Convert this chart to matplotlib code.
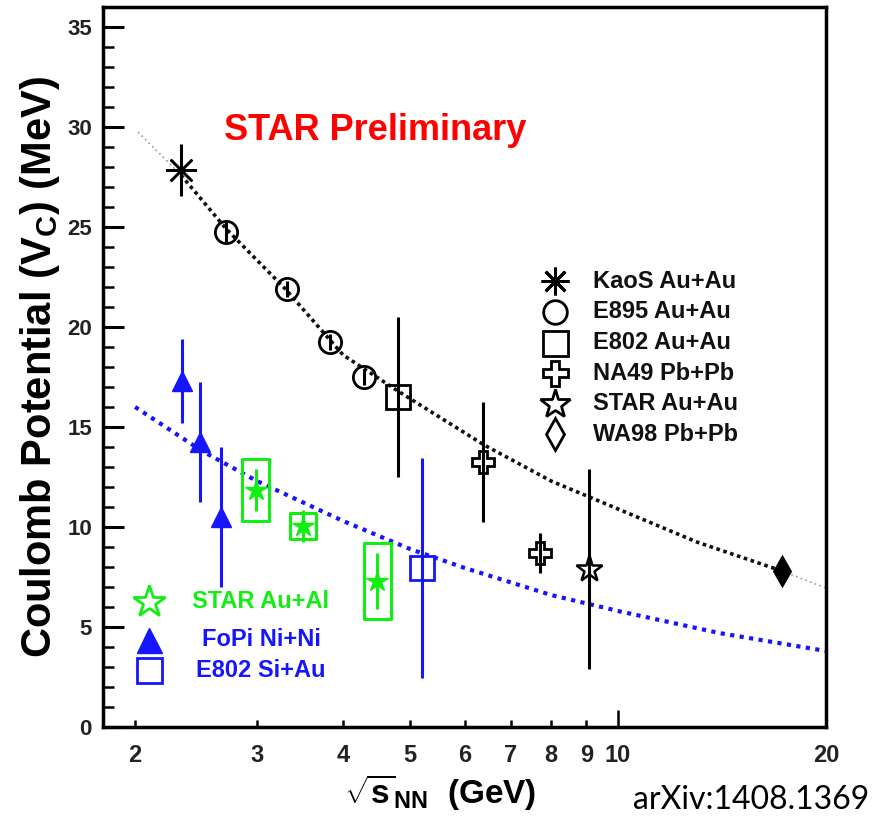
import numpy as np
import matplotlib
matplotlib.use('Agg')
from matplotlib import pyplot as plt
from matplotlib.patches import Rectangle

plt.rcParams['font.family'] = ['Liberation Sans', 'DejaVu Sans']
plt.rcParams['font.weight'] = 'bold'
plt.rcParams['axes.labelweight'] = 'bold'
plt.rcParams['mathtext.fontset'] = 'custom'
plt.rcParams['mathtext.rm'] = 'Liberation Sans:bold'
plt.rcParams['mathtext.bf'] = 'Liberation Sans:bold'

GREEN = '#11ee11'
BLUE = '#1515ff'

# --- data ---
kaos_x, kaos_y, kaos_e = [2.33], [27.85], [1.3]
e895_x = [2.71, 3.32, 3.83, 4.29]
e895_y = [24.75, 21.9, 19.25, 17.5]
e895_e = [0.5, 0.4, 0.4, 0.4]
e802_x, e802_y, e802_e = [4.80], [16.5], [4.0]
na49_x = [6.38, 7.71]
na49_y = [13.25, 8.7]
na49_e = [3.0, 1.0]
staraa_x, staraa_y, staraa_e = [9.07], [7.9], [5.0]
wa98_x, wa98_y, wa98_e = [17.27], [7.8], [0.2]

fopi_x = [2.34, 2.48, 2.66]
fopi_y = [17.3, 14.25, 10.5]
fopi_e = [2.1, 3.0, 3.5]
e802si_x, e802si_y, e802si_e = [5.20], [7.95], [5.5]

staral_x = [2.99, 3.50, 4.48]
staral_y = [11.85, 10.05, 7.3]
staral_stat = [1.05, 0.8, 1.4]
staral_sys = [1.55, 0.65, 1.9]

# fit curves
fit_x = [2.02, 2.33, 2.71, 3.3, 4.0, 4.8, 6.4, 8.0, 10.0, 13.0, 17.27, 20.0]
fit_y = [29.75, 27.6, 24.9, 21.9, 18.6, 16.8, 14.1, 12.3, 10.9, 9.25, 7.8, 6.95]
blue_x = [2.0, 2.5, 3.0, 4.0, 5.0, 6.0, 8.0, 10.0, 14.0, 20.0]
blue_y = [16.0, 13.8, 12.3, 10.3, 8.9, 7.95, 6.6, 5.8, 4.7, 3.8]

legend_labels = ['KaoS Au+Au', 'E895 Au+Au', 'E802 Au+Au', 'NA49 Pb+Pb',
                 'STAR Au+Au', 'WA98 Pb+Pb']
legend2_labels = ['STAR Au+Al', 'FoPi Ni+Ni', 'E802 Si+Au']
xtick_vals = [2, 3, 4, 5, 6, 7, 8, 9, 10, 20]

fig = plt.figure(figsize=(8.75, 8.22), dpi=100)
ax = fig.add_axes([0.1177, 0.1156, 0.8263, 0.8759])
ax.set_xscale('log')
ax.set_xlim(1.797, 20)
ax.set_ylim(0, 36)

# fit curves
ax.plot(fit_x[:2], fit_y[:2], ls=(0, (1, 2)), color='#999999', lw=1.2)
ax.plot(fit_x[1:-1], fit_y[1:-1], ls=(0, (1, 1.0)), color='#111111', lw=2.6)
ax.plot(fit_x[-2:], fit_y[-2:], ls=(0, (1, 2)), color='#999999', lw=1.2)
ax.plot(blue_x, blue_y, ls=(0, (1, 1.3)), color=BLUE, lw=3.0)

# STAR Au+Al systematic boxes
hw = 10 ** 0.0195
for x, y, s in zip(staral_x, staral_y, staral_sys):
    ax.add_patch(Rectangle((x / hw, y - s), x * hw - x / hw, 2 * s, fill=False,
                           ec=GREEN, lw=2.2, joinstyle='round', zorder=3))

ek = dict(ls='none', capsize=0, elinewidth=2.2, zorder=4)
ax.errorbar(kaos_x, kaos_y, yerr=kaos_e, marker=(8, 2, 0), ms=22, mew=1.8,
            color='k', **ek)
ax.errorbar(e895_x, e895_y, yerr=e895_e, marker='o', ms=16, mfc='none',
            mec='k', mew=2, color='k', **ek)
ax.errorbar(e802_x, e802_y, yerr=e802_e, marker='s', ms=17, mfc='none',
            mec='k', mew=2, color='k', **ek)
ax.errorbar(na49_x, na49_y, yerr=na49_e, marker='P', ms=16, mfc='none',
            mec='k', mew=2, color='k', **ek)
ax.errorbar(staraa_x, staraa_y, yerr=staraa_e, marker='*', ms=20, mfc='none',
            mec='k', mew=1.8, color='k', **ek)
ax.errorbar(wa98_x, wa98_y, yerr=wa98_e, marker='d', ms=14, mfc='k',
            mec='k', mew=2, color='k', **ek)
ax.errorbar(fopi_x, fopi_y, yerr=fopi_e, marker='^', ms=15, mfc=BLUE,
            mec=BLUE, color=BLUE, **ek)
ax.errorbar(e802si_x, e802si_y, yerr=e802si_e, marker='s', ms=17, mfc='none',
            mec=BLUE, mew=2, color=BLUE, **ek)
ax.errorbar(staral_x, staral_y, yerr=staral_stat, marker='*', ms=16,
            mfc=GREEN, mec=GREEN, color=GREEN, **ek)

# legend (upper right), drawn by hand like the ROOT one
leg_markers = [dict(marker=(8, 2, 0), ms=20, mew=2, color='k'),
               dict(marker='o', ms=17, mfc='none', mec='k', mew=2),
               dict(marker='s', ms=18, mfc='none', mec='k', mew=2),
               dict(marker='P', ms=18, mfc='none', mec='k', mew=2),
               dict(marker='*', ms=22, mfc='none', mec='k', mew=2),
               dict(marker='d', ms=16, mfc='none', mec='k', mew=2)]
for i, (lab, mk) in enumerate(zip(legend_labels, leg_markers)):
    yy = 0.619 - i * 0.0425
    ax.plot([0.625], [yy], transform=ax.transAxes, ls='none', **mk)
    ax.text(0.678, yy, lab, transform=ax.transAxes, fontsize=17,
            va='center', ha='left', color='#111111')

leg2_markers = [dict(marker='*', ms=24, mfc='none', mec=GREEN, mew=2),
                dict(marker='^', ms=18, mfc=BLUE, mec=BLUE),
                dict(marker='s', ms=18, mfc='none', mec=BLUE, mew=2)]
leg2_colors = [GREEN, BLUE, BLUE]
for i, (lab, mk, c) in enumerate(zip(legend2_labels, leg2_markers, leg2_colors)):
    yy = [0.174, 0.121, 0.079][i]
    ax.plot([0.064], [yy], transform=ax.transAxes, ls='none', **mk)
    ax.text(0.2185, yy, lab, transform=ax.transAxes, fontsize=17,
            va='center', ha='center', color=c)

ax.text(0.376, 0.829, 'STAR Preliminary', transform=ax.transAxes,
        fontsize=26, color='#ff0000', ha='center', va='center')

# axes styling
for sp in ax.spines.values():
    sp.set_linewidth(2.5)
ax.set_yticks(np.arange(0, 36, 5))
ax.set_yticks(np.arange(0, 36, 1), minor=True)
ax.tick_params(axis='y', which='major', direction='in', length=15, width=2.2,
               labelsize=16, pad=8, labelcolor='#222222')
ax.tick_params(axis='y', which='minor', direction='in', length=8, width=1.8)
ax.set_xticks([10])
ax.set_xticks([v for v in xtick_vals if v != 10], minor=True)
ax.set_xticklabels(['10'])
ax.set_xticklabels([str(v) for v in xtick_vals if v != 10], minor=True)
ax.tick_params(axis='x', which='major', direction='in', length=12, width=1.8,
               labelsize=17, pad=12, labelcolor='#222222')
ax.tick_params(axis='x', which='minor', direction='in', length=5, width=1.8,
               labelsize=17, pad=12, labelcolor='#222222')

ax.set_ylabel(r'Coulomb Potential (V$_{\mathrm{C}}$) (MeV)', fontsize=30,
              labelpad=4)
ax.text(0.466, -0.09, r'$\sqrt{\mathrm{s}}_{\mathrm{NN}}$  (GeV)',
        transform=ax.transAxes, fontsize=24, ha='center', va='center')
fig.text(0.994, 0.027, 'arXiv:1408.1369', fontsize=23, family='Lato',
         weight='normal', ha='right', va='center')

fig.savefig('out.png', dpi=100)
